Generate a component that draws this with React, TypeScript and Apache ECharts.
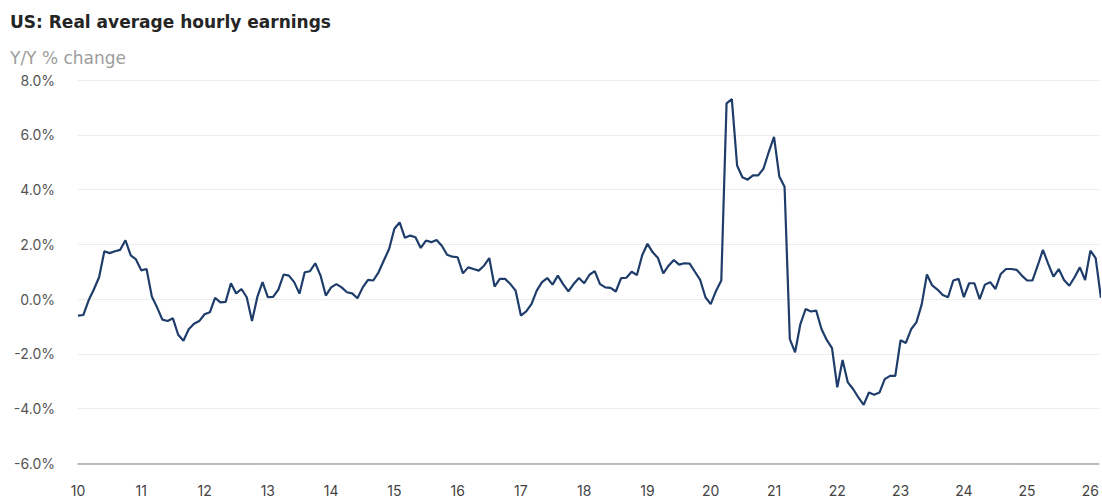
import React, { useEffect, useRef } from "react";
import * as echarts from "echarts";

// Real average hourly earnings, Y/Y % change, monthly from Jan 2010
const yoy2010to2014 = [
  -0.6, -0.58, -0.05, 0.35, 0.8, 1.75, 1.68, 1.75, 1.8, 2.15, 1.6, 1.45,
  1.05, 1.1, 0.1, -0.3, -0.75, -0.8, -0.7, -1.3, -1.52, -1.1, -0.9, -0.8,
  -0.55, -0.48, 0.05, -0.12, -0.1, 0.58, 0.21, 0.37, 0.07, -0.8, 0.07, 0.62,
  0.07, 0.08, 0.35, 0.9, 0.86, 0.62, 0.2, 0.98, 1.02, 1.31, 0.86, 0.13,
  0.43, 0.55, 0.43, 0.25, 0.21, 0.03, 0.43, 0.7, 0.68, 0.98, 1.41, 1.83,
];
const yoy2015to2019 = [
  2.57, 2.8, 2.24, 2.32, 2.26, 1.87, 2.14, 2.08, 2.16, 1.95, 1.62, 1.55,
  1.53, 0.94, 1.16, 1.1, 1.04, 1.22, 1.5, 0.46, 0.74, 0.74, 0.55, 0.31,
  -0.6, -0.45, -0.18, 0.31, 0.62, 0.77, 0.53, 0.86, 0.55, 0.28, 0.55, 0.77,
  0.58, 0.89, 1.02, 0.55, 0.43, 0.41, 0.28, 0.77, 0.78, 1.0, 0.88, 1.6,
  2.02, 1.71, 1.5, 0.94, 1.22, 1.43, 1.26, 1.31, 1.3, 1.0, 0.7, 0.07,
];
const yoy2020to2026 = [
  -0.18, 0.3, 0.68, 7.15, 7.3, 4.88, 4.45, 4.36, 4.52, 4.52, 4.76, 5.37,
  5.92, 4.48, 4.1, -1.46, -1.94, -0.91, -0.36, -0.45, -0.42, -1.09, -1.49, -1.79,
  -3.22, -2.22, -3.04, -3.28, -3.59, -3.86, -3.41, -3.49, -3.41, -2.92, -2.8, -2.8,
  -1.5, -1.6, -1.1, -0.85, -0.2, 0.9, 0.5, 0.35, 0.15, 0.07, 0.68, 0.74,
  0.07, 0.58, 0.58, 0.0, 0.53, 0.62, 0.37, 0.92, 1.1, 1.1, 1.07, 0.86,
  0.68, 0.68, 1.22, 1.8, 1.29, 0.82, 1.1, 0.7, 0.49, 0.8, 1.16, 0.7,
  1.77, 1.5, 0.05,
];

const yearLabels = [
  "10", "11", "12", "13", "14", "15", "16", "17", "18",
  "19", "20", "21", "22", "23", "24", "25", "26",
];

const yTicks = { min: -6, max: 8, step: 2 };

const FONT = "Inter, 'Noto Sans', sans-serif";
const HEAD_FONT = "'DejaVu Sans', Inter, sans-serif";

export default function App() {
  const ref = useRef<HTMLDivElement>(null);

  useEffect(() => {
    if (!ref.current) return;
    const chart = echarts.init(ref.current, null, { renderer: "svg" });

    const values = [...yoy2010to2014, ...yoy2015to2019, ...yoy2020to2026];
    const seriesData = values.map((v, i) => [i, v]);

    chart.setOption({
      animation: false,
      backgroundColor: "#ffffff",
      textStyle: { fontFamily: FONT },
      title: [
        {
          text: "US: Real average hourly earnings",
          left: 10,
          top: 13,
          padding: 0,
          textStyle: {
            fontFamily: HEAD_FONT,
            fontSize: 17,
            fontWeight: "bold",
            color: "#252525",
          },
        },
        {
          text: "Y/Y % change",
          left: 10,
          top: 49,
          padding: 0,
          textStyle: {
            fontFamily: HEAD_FONT,
            fontSize: 17,
            fontWeight: "normal",
            color: "#9d9d9d",
          },
        },
      ],
      grid: { left: 78, right: 0, top: 80, height: 383.5, containLabel: false },
      xAxis: {
        type: "value",
        min: 0,
        max: 193.6,
        interval: 12,
        axisLine: {
          show: true,
          onZero: false,
          lineStyle: { color: "#a8a8a8", width: 1.5 },
        },
        axisTick: { show: false },
        splitLine: { show: false },
        axisLabel: {
          margin: 20,
          fontSize: 14,
          color: "#444444",
          fontFamily: FONT,
          formatter: (v: number) =>
            v % 12 === 0 ? yearLabels[v / 12] ?? "" : "",
        },
      },
      yAxis: {
        type: "value",
        min: yTicks.min,
        max: yTicks.max,
        interval: yTicks.step,
        axisLine: { show: false },
        axisTick: { show: false },
        splitLine: { show: true, lineStyle: { color: "#ececec", width: 1 } },
        axisLabel: {
          margin: 23,
          fontSize: 14,
          color: "#555555",
          fontFamily: FONT,
          formatter: (v: number) => v.toFixed(1) + "%",
        },
      },
      series: [
        {
          type: "line",
          data: seriesData,
          showSymbol: false,
          symbol: "none",
          clip: true,
          lineStyle: { color: "#1f3d6b", width: 2.2 },
          emphasis: { disabled: true },
        },
      ],
    });

    return () => chart.dispose();
  }, []);

  return (
    <div
      ref={ref}
      style={{
        position: "fixed",
        left: 0,
        top: 0,
        width: 1102,
        height: 502,
        background: "#ffffff",
      }}
    />
  );
}
